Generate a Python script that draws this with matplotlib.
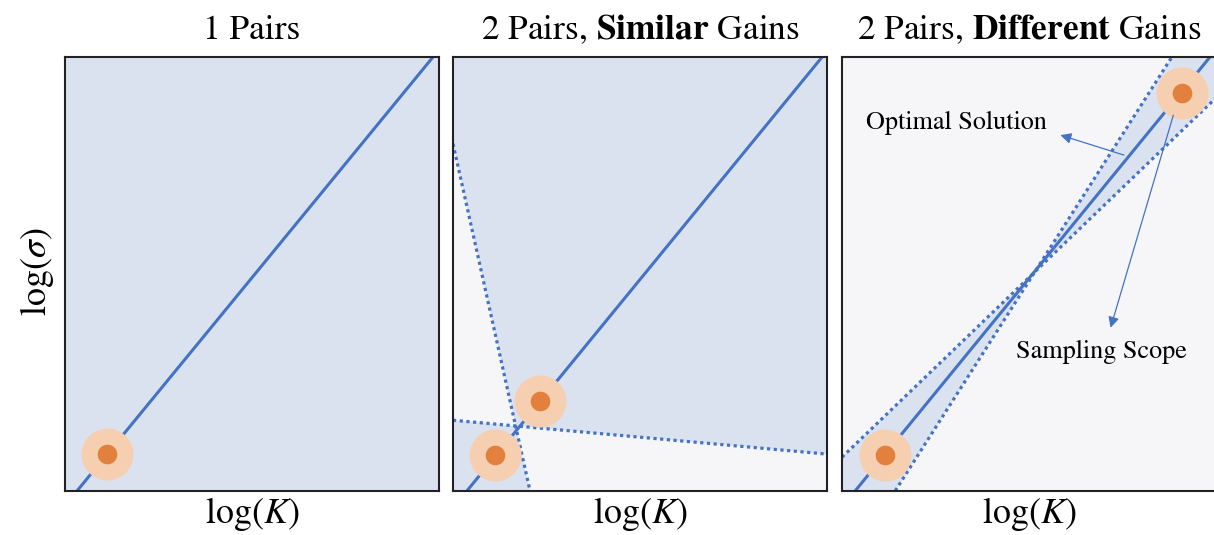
import matplotlib
matplotlib.use("Agg")
import matplotlib.pyplot as plt
import numpy as np

plt.rcParams['font.family'] = 'STIXGeneral'
plt.rcParams['mathtext.fontset'] = 'stix'

# data (axes units: log K along x, log sigma along y, both 0..1)
titles = ["1 Pairs", r"2 Pairs, $\mathbf{Similar}$ Gains", r"2 Pairs, $\mathbf{Different}$ Gains"]

p1_opt_x = [0.032, 0.984]
p1_opt_y = [0.0, 1.0]
p1_pts_x = [0.113]
p1_pts_y = [0.086]

p2_opt_x = [0.037, 0.987]
p2_opt_y = [0.0, 1.0]
p2_pts_x = [0.233, 0.112]
p2_pts_y = [0.208, 0.082]
p2_steep_x = [0.0, 0.206]
p2_steep_y = [0.80, 0.0]
p2_flat_x = [0.0, 1.0]
p2_flat_y = [0.163, 0.085]

p3_opt_x = [0.035, 0.984]
p3_opt_y = [0.0, 1.0]
p3_pts_x = [0.909, 0.115]
p3_pts_y = [0.917, 0.083]
p3_a_x = [0.0, 1.0]
p3_a_y = [0.078, 0.906]
p3_b_x = [0.142, 0.882]
p3_b_y = [0.0, 1.0]

blue = '#4472c4'
shade = '#dbe2ef'
pale = '#f6f6f9'
orange = '#e2813d'
halo = '#f5cfb0'
dots = (0, (1, 1.1))


def line_at(xs, ys, x):
    # straight line through two points, evaluated at x
    m = (ys[1] - ys[0]) / (xs[1] - xs[0])
    return ys[0] + m * (x - xs[0])


fig = plt.figure(figsize=(12.14, 5.35), dpi=100)
lefts = [65 / 1214, 453 / 1214, 842 / 1214]
axes = [fig.add_axes([l, 1 - 491 / 535, 374 / 1214, 434 / 535]) for l in lefts]

for ax, t in zip(axes, titles):
    ax.set_xlim(0, 1)
    ax.set_ylim(0, 1)
    ax.set_xticks([])
    ax.set_yticks([])
    for s in ax.spines.values():
        s.set_color('#222222')
        s.set_linewidth(1.5)
    ax.set_title(t, fontsize=25.5, pad=13)
    ax.set_xlabel(r"$\log(K)$", fontsize=26, labelpad=3)

fig.text(37 / 1214, 1 - 272 / 535, r"$\log(\sigma)$", fontsize=26,
         rotation=90, ha='center', va='center')

xx = np.linspace(0, 1, 400)


def points(ax, px, py):
    ax.scatter(px, py, s=1400, color=halo, zorder=3, linewidths=0)
    ax.scatter(px, py, s=200, color=orange, zorder=4, linewidths=0)


# panel 1
ax0 = axes[0]
ax0.set_facecolor(shade)
ax0.plot(p1_opt_x, p1_opt_y, color=blue, lw=2.2, zorder=2)
points(ax0, p1_pts_x, p1_pts_y)

# panel 2
ax1 = axes[1]
ax1.set_facecolor(shade)
s_y = line_at(p2_steep_x, p2_steep_y, xx)
f_y = line_at(p2_flat_x, p2_flat_y, xx)
ax1.fill_between(xx, np.minimum(s_y, f_y), np.maximum(s_y, f_y), color=pale, lw=0, zorder=1)
ax1.plot(xx, s_y, color=blue, lw=2.3, ls=dots, zorder=2)
ax1.plot(xx, f_y, color=blue, lw=2.3, ls=dots, zorder=2)
ax1.plot(p2_opt_x, p2_opt_y, color=blue, lw=2.2, zorder=2)
points(ax1, p2_pts_x, p2_pts_y)

# panel 3
ax2 = axes[2]
ax2.set_facecolor(pale)
a_y = line_at(p3_a_x, p3_a_y, xx)
b_y = line_at(p3_b_x, p3_b_y, xx)
ax2.fill_between(xx, np.minimum(a_y, b_y), np.maximum(a_y, b_y), color=shade, lw=0, zorder=1)
ax2.plot(xx, a_y, color=blue, lw=2.3, ls=dots, zorder=2)
ax2.plot(xx, b_y, color=blue, lw=2.3, ls=dots, zorder=2)
ax2.plot(p3_opt_x, p3_opt_y, color=blue, lw=2.2, zorder=2)
points(ax2, p3_pts_x, p3_pts_y)

arrow = dict(arrowstyle='-|>', color=blue, lw=0.9, mutation_scale=16)
ax2.annotate("", xy=(0.577, 0.822), xytext=(0.761, 0.772), arrowprops=arrow, zorder=5)
ax2.text(0.305, 0.848, "Optimal Solution", fontsize=18.8, ha='center', va='center')
ax2.annotate("", xy=(0.716, 0.370), xytext=(0.888, 0.872), arrowprops=arrow, zorder=5)
ax2.text(0.695, 0.320, "Sampling Scope", fontsize=18.8, ha='center', va='center')

fig.savefig("out.png", dpi=100)
